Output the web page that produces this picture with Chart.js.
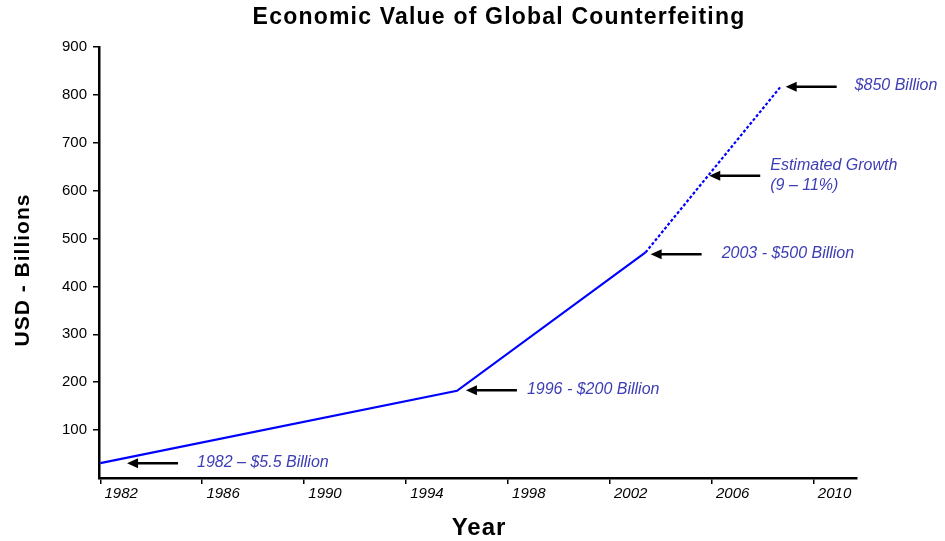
<!DOCTYPE html>
<html>
<head>
<meta charset="utf-8">
<script src="https://cdn.jsdelivr.net/npm/chart.js@4/dist/chart.umd.min.js"></script>
<style>
  html, body { margin: 0; padding: 0; background: #fff; }
  #wrap { width: 945px; height: 541px; }
</style>
</head>
<body>
<div id="wrap"><canvas id="counterfeitChart" width="945" height="541"></canvas></div>
<script>
// Chart data
const solidYears = [1982, 1996, 2003.4];
const solidValues = [31, 182, 471];
const estimateYears = [2003.4, 2008.7];
const estimateValues = [471, 817];

const xTickYears = [1982, 1986, 1990, 1994, 1998, 2002, 2006, 2010];
const yTickValues = [100, 200, 300, 400, 500, 600, 700, 800, 900];

// Callouts: arrow tip (year, value) and text lines
const noteYears = [1983.05, 1996.35, 2003.6, 2005.9, 2008.9];
const noteValues = [31, 183, 467, 631, 817];
const noteTexts = [
    ['1982 \u2013 $5.5 Billion'],
    ['1996 - $200 Billion'],
    ['2003 - $500 Billion'],
    ['Estimated Growth', '(9 \u2013 11%)'],
    ['$850 Billion']
];
// space between arrow tail and its text, px
const noteGaps = [19, 10, 20, 10, 18];

const FONT = '"Liberation Sans", Arial, sans-serif';

function toPoints(xs, ys) {
    return xs.map((x, i) => ({ x: x, y: ys[i] }));
}

// Title, axis titles and the arrow callouts
const chartText = {
    id: 'chartText',
    afterDraw(chart) {
        const ctx = chart.ctx;
        const xs = chart.scales.x;
        const ys = chart.scales.y;
        ctx.save();
        ctx.fillStyle = '#000';
        ctx.textBaseline = 'middle';
        ctx.textAlign = 'center';
        ctx.letterSpacing = '1.2px';
        ctx.font = 'bold 23px ' + FONT;
        ctx.fillText('Economic Value of Global Counterfeiting', 499, 18);
        ctx.letterSpacing = '1px';
        ctx.font = 'bold 24px ' + FONT;
        ctx.fillText('Year', 479, 528);
        ctx.save();
        ctx.font = 'bold 21px ' + FONT;
        ctx.translate(23, 270);
        ctx.rotate(-Math.PI / 2);
        ctx.fillText('USD - Billions', 0, 0);
        ctx.restore();
        ctx.letterSpacing = '0px';

        noteYears.forEach((yr, i) => {
            const tipX = xs.getPixelForValue(yr);
            const tipY = ys.getPixelForValue(noteValues[i]);
            const tailX = tipX + 51;
            // arrow shaft
            ctx.strokeStyle = '#000';
            ctx.lineWidth = 2.5;
            ctx.beginPath();
            ctx.moveTo(tipX + 8, tipY);
            ctx.lineTo(tailX, tipY);
            ctx.stroke();
            // arrow head
            ctx.fillStyle = '#000';
            ctx.beginPath();
            ctx.moveTo(tipX, tipY);
            ctx.lineTo(tipX + 11, tipY - 5);
            ctx.lineTo(tipX + 11, tipY + 5);
            ctx.closePath();
            ctx.fill();
            // label
            const lines = noteTexts[i];
            ctx.fillStyle = '#3d3db5';
            ctx.font = 'italic 16px ' + FONT;
            ctx.textAlign = 'left';
            const top = tipY - (lines.length - 1) * 10 - (lines.length > 1 ? 0 : 1);
            lines.forEach((line, j) => {
                ctx.fillText(line, tailX + noteGaps[i], top + j * 20);
            });
        });
        ctx.restore();
    }
};

const ctx = document.getElementById('counterfeitChart').getContext('2d');
const counterfeitChart = new Chart(ctx, {
    type: 'line',
    data: {
        datasets: [{
            label: 'Reported',
            data: toPoints(solidYears, solidValues),
            borderColor: '#0000ff',
            borderWidth: 2.2,
            pointRadius: 0,
            tension: 0
        }, {
            label: 'Estimated',
            data: toPoints(estimateYears, estimateValues),
            borderColor: '#0000ff',
            borderWidth: 2.2,
            borderDash: [3, 2],
            pointRadius: 0,
            tension: 0
        }]
    },
    options: {
        responsive: false,
        animation: false,
        layout: {
            padding: { left: 56, right: 88, top: 47, bottom: 37 }
        },
        plugins: {
            legend: { display: false },
            title: { display: false },
            tooltip: { enabled: false }
        },
        scales: {
            x: {
                type: 'linear',
                min: 1981.95,
                max: 2011.7,
                afterBuildTicks: function(axis) {
                    axis.ticks = xTickYears.map(v => ({ value: v }));
                },
                grid: {
                    drawOnChartArea: false,
                    drawTicks: true,
                    tickLength: 6,
                    color: '#000',
                    lineWidth: 1.5
                },
                border: { display: true, color: '#000', width: 2.5 },
                ticks: {
                    align: 'start',
                    padding: 1,
                    color: '#000',
                    font: { family: FONT, size: 15, style: 'italic' },
                    callback: v => ' ' + v
                }
            },
            y: {
                min: 0,
                max: 900,
                afterBuildTicks: function(axis) {
                    axis.ticks = yTickValues.map(v => ({ value: v }));
                },
                grid: {
                    drawOnChartArea: false,
                    drawTicks: true,
                    tickLength: 6,
                    color: '#000',
                    lineWidth: 1.5
                },
                border: { display: true, color: '#000', width: 2.5 },
                ticks: {
                    padding: 6,
                    color: '#000',
                    font: { family: FONT, size: 15 }
                }
            }
        }
    },
    plugins: [chartText]
});
</script>
</body>
</html>
